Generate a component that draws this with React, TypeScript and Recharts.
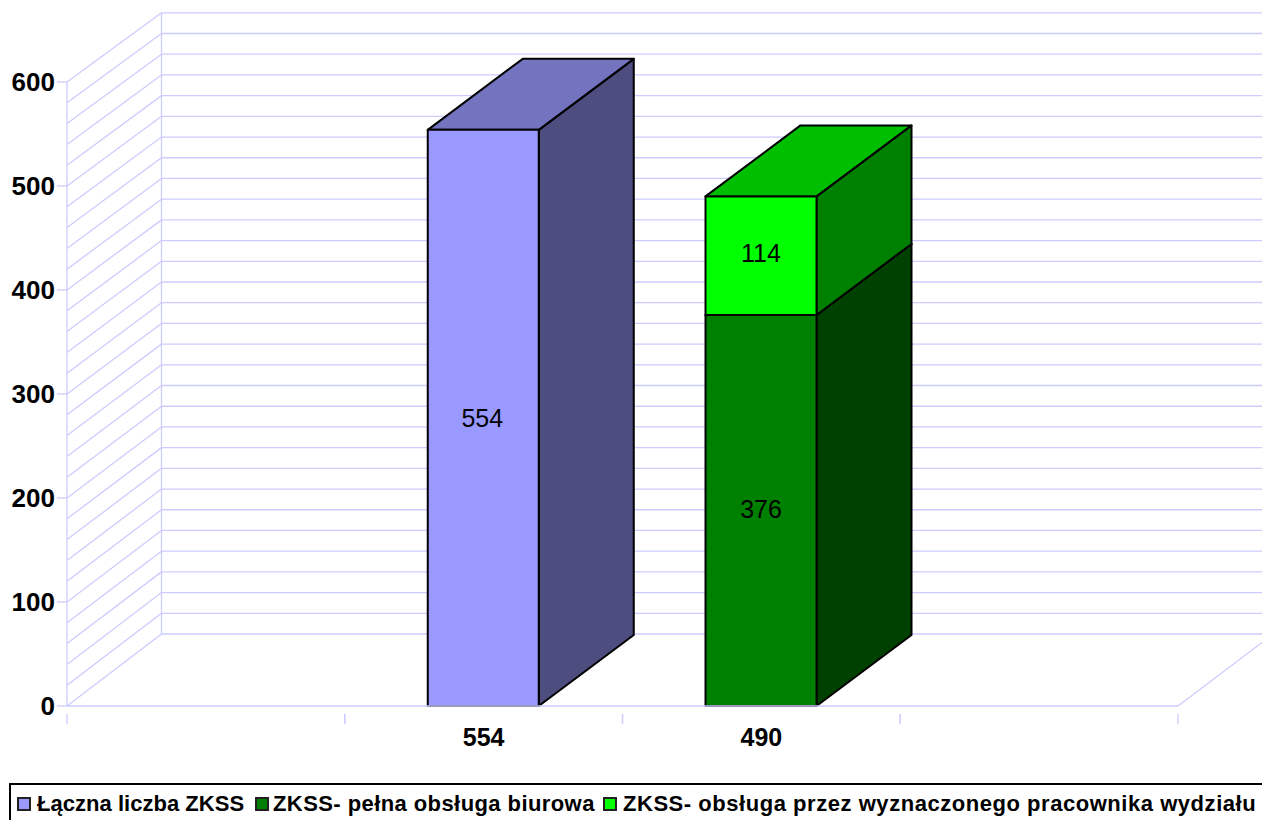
import { Bar, BarChart, LabelList, Legend, ReferenceLine, XAxis, YAxis } from "recharts"

const categories = ["", "554", "490", ""]
const totalValues = [null, 554, null, null]
const officeValues = [null, null, 376, null]
const employeeValues = [null, null, 114, null]
const yTicks = [0, 100, 200, 300, 400, 500, 600]
const gridValues = [
  0, 20, 40, 60, 80, 100, 120, 140, 160, 180, 200, 220, 240, 260, 280, 300,
  320, 340, 360, 380, 400, 420, 440, 460, 480, 500, 520, 540, 560, 580, 600,
]
const seriesNames = [
  "Łączna liczba ZKSS",
  "ZKSS- pełna obsługa biurowa",
  "ZKSS- obsługa przez wyznaczonego pracownika wydziału",
]

const chartData = categories.map((name, i) => ({
  name,
  total: totalValues[i],
  office: officeValues[i],
  employee: employeeValues[i],
}))

const FONT = '"Liberation Sans", Arial, sans-serif'
const GRID = "#ccccff"
const GRID_W = 1.3
const DEPTH_X = 95
const DEPTH_Y = 71
const BAND = 277.75

// back wall + side wall line for one grid value
function WallLine(props: any) {
  const { x1, y1, x2, value } = props
  const backX = x1 + 94.5
  const backY = 634 - (706 - y1) * 0.9955
  return (
    <g stroke={GRID} strokeWidth={GRID_W} fill="none">
      <line x1={x1} y1={y1} x2={backX} y2={backY} />
      <line x1={backX} y1={backY} x2={1262} y2={backY} />
      {value === 600 && <line x1={backX} y1={backY} x2={backX} y2={634} />}
      {value === 0 && <line x1={x2} y1={y1} x2={x2 + 94} y2={y1 - 71} />}
    </g>
  )
}

function box(side: string, top: string) {
  return (props: any) => {
    const { x, y, width, height, fill } = props
    if (!height || height <= 0) return <g />
    const r = x + width
    const b = y + height
    return (
      <g stroke="#000" strokeWidth={2} strokeLinejoin="round">
        <path d={`M${r} ${y}L${r + DEPTH_X} ${y - DEPTH_Y}L${r + DEPTH_X} ${b - DEPTH_Y}L${r} ${b}Z`} fill={side} />
        <path d={`M${x} ${y}L${x + DEPTH_X} ${y - DEPTH_Y}L${r + DEPTH_X} ${y - DEPTH_Y}L${r} ${y}Z`} fill={top} />
        <rect x={x} y={y} width={width} height={height} fill={fill} />
      </g>
    )
  }
}

function CategoryTick(props: any) {
  const { x, y, payload } = props
  return (
    <g>
      <line x1={x - BAND / 2} y1={y} x2={x - BAND / 2} y2={y + 10} stroke={GRID} strokeWidth={GRID_W} />
      <line x1={x + BAND / 2} y1={y} x2={x + BAND / 2} y2={y + 10} stroke={GRID} strokeWidth={GRID_W} />
      <text x={x} y={y + 40 - 8} textAnchor="middle" fontFamily={FONT} fontSize={25} fontWeight="bold" fill="#000">
        {payload.value}
      </text>
    </g>
  )
}

const iconLefts = [6, 244, 592]
const textLefts = [26, 262, 612]
const textSpacing = [0.03, 0.42, 0.54]

function LegendBox({ payload }: any) {
  return (
    <div style={{ position: "relative", height: 40, width: 1300, border: "2px solid #000", boxSizing: "border-box", fontFamily: FONT, fontWeight: "bold", fontSize: 22 }}>
      {(payload || []).map((item: any, i: number) => (
        <div key={i}>
          <span style={{ position: "absolute", left: iconLefts[i], top: 12, width: 10, height: 10, background: item.color, border: "2px solid #222" }} />
          <span style={{ position: "absolute", left: textLefts[i], top: 6, whiteSpace: "nowrap", color: "#000", lineHeight: "26px", letterSpacing: textSpacing[i] }}>
            {item.value}
          </span>
        </div>
      ))}
    </div>
  )
}

export default function App() {
  return (
    <div style={{ position: "absolute", left: 0, top: 0, width: 1262, height: 820, overflow: "hidden", background: "#fff" }}>
      <BarChart
        width={1262}
        height={820}
        data={chartData}
        margin={{ top: 82, right: 84, bottom: 44, left: 0 }}
      >
        {gridValues.map((v) => (
          <ReferenceLine key={v} y={v} shape={(p: any) => <WallLine {...p} value={v} />} zIndex={0} />
        ))}
        <XAxis
          dataKey="name"
          interval={0}
          height={30}
          tickLine={false}
          axisLine={{ stroke: GRID, strokeWidth: GRID_W }}
          tick={<CategoryTick />}
        />
        <YAxis
          width={67}
          domain={[0, 600]}
          ticks={yTicks}
          interval={0}
          tickSize={10}
          tickMargin={2}
          axisLine={{ stroke: GRID, strokeWidth: GRID_W }}
          tickLine={{ stroke: GRID, strokeWidth: GRID_W }}
          tick={{ fontFamily: FONT, fontSize: 26, fontWeight: "bold", fill: "#000" }}
        />
        <Legend
          itemSorter={null}
          content={<LegendBox />}
          wrapperStyle={{ left: 9, top: 783, width: 1300, height: 40 }}
        />
        <Bar dataKey="total" name={seriesNames[0]} stackId="a" barSize={111} fill="#9999ff" shape={box("#4d4d80", "#7373bf")} isAnimationActive={false}>
          <LabelList dataKey="total" position="center" dx={-1} fontFamily={FONT} fontSize={25} fill="#000" />
        </Bar>
        <Bar dataKey="office" name={seriesNames[1]} stackId="a" barSize={111} fill="#008000" shape={box("#004000", "#006000")} isAnimationActive={false}>
          <LabelList dataKey="office" position="center" dy={-1} fontFamily={FONT} fontSize={25} fill="#000" />
        </Bar>
        <Bar dataKey="employee" name={seriesNames[2]} stackId="a" barSize={111} fill="#00ff00" shape={box("#008000", "#00bf00")} isAnimationActive={false}>
          <LabelList dataKey="employee" position="center" dy={-3} fontFamily={FONT} fontSize={25} fill="#000" />
        </Bar>
      </BarChart>
    </div>
  )
}
